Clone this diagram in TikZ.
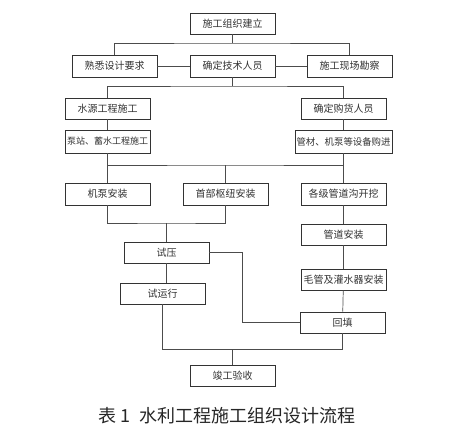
\documentclass[tikz,border=0pt]{standalone}
\usepackage{fontspec}
\setmainfont{Noto Sans CJK SC}
\usetikzlibrary{positioning}

\begin{document}
\begin{tikzpicture}[
  x=1pt, y=-1pt,
  font=\fontsize{10}{12}\selectfont,
  box/.style={draw=black!80, line width=0.8pt, fill=white, minimum width=85pt, minimum height=21pt, inner sep=0pt, text=black!80},
  link/.style={draw=black!70, line width=0.7pt},
]
\useasboundingbox (0,0) rectangle (462,429);

% Organisation
\node[box] (org) at (232.5,23.5) {施工组织建立};
\node[box, minimum height=22pt] (design) at (114.5,66) {熟悉设计要求};
\node[box, minimum height=22pt] (tech) at (232.5,66) {确定技术人员};
\node[box, minimum height=22pt] (survey) at (349.5,66) {施工现场勘察};

\coordinate (j1) at (232.5,43);
\draw[link] (org.south) -- (j1);
\draw[link] (design.north) |- (j1) -| (survey.north);
\draw[link] (design) -- (tech);
\draw[link] (tech) -- (survey);

% Two branches
\node[box] (source) at (107.5,108.5) {水源工程施工};
\node[box] (buyer) at (343.5,108.5) {确定购货人员};
\node[box, minimum height=23pt, font=\fontsize{9}{11}\selectfont] (station) at (107.5,141.5) {泵站、蓄水工程施工};
\node[box, minimum width=97pt, minimum height=23pt, font=\fontsize{9.4}{11}\selectfont] (purchase) at (343.5,141.5) {管材、机泵等设备购进};

\coordinate (j2) at (232.5,86);
\draw[link] (tech.south) -- (j2);
\draw[link] (source.north) |- (j2) -| (buyer.north);
\draw[link] (source) -- (station);
\draw[link] (buyer) -- (purchase);

% Installation
\node[box, minimum height=22pt] (pump) at (107.5,194) {机泵安装};
\node[box, minimum height=22pt] (hub) at (225.5,194) {首部枢纽安装};
\node[box, minimum height=22pt] (trench) at (343.5,194) {各级管道沟开挖};

\coordinate (j3) at (225.5,165);
\draw[link] (station.south) |- (j3) -| (purchase.south);
\draw[link] (j3) -- (hub.north);
\draw[link] (station.south |- j3) -- (pump.north);
\draw[link] (purchase.south |- j3) -- (trench.north);

% Pipe work
\node[box] (pipes) at (343.5,234.5) {管道安装};
\node[box] (emitter) at (343.5,279.5) {毛管及灌水器安装};
\node[box] (backfill) at (342.5,322.5) {回填};

\draw[link] (trench) -- (pipes);
\draw[link] (pipes) -- (emitter);
\draw[link] (emitter) -- (backfill);

% Tests
\node[box] (press) at (166.5,252.5) {试压};
\node[box] (trial) at (162.5,293.5) {试运行};

\coordinate (j4) at (166.5,223);
\draw[link] (pump.south) |- (j4) -| (hub.south);
\draw[link] (j4) -- (press.north);
\draw[link] (press.south) -- (press.south |- trial.north);
\coordinate (k1) at (242,252.5);
\draw[link] (press.east) -- (k1) |- (backfill.west);

% Acceptance
\node[box] (accept) at (232.5,375.5) {竣工验收};

\coordinate (j5) at (232.5,349);
\draw[link] (trial.south) |- (j5) -| (backfill.south);
\draw[link] (j5) -- (accept.north);

\node[font=\fontsize{18}{21}\selectfont, text=black!85] (caption) at (227,416) {表 1\ \ 水利工程施工组织设计流程};

\end{tikzpicture}
\end{document}
